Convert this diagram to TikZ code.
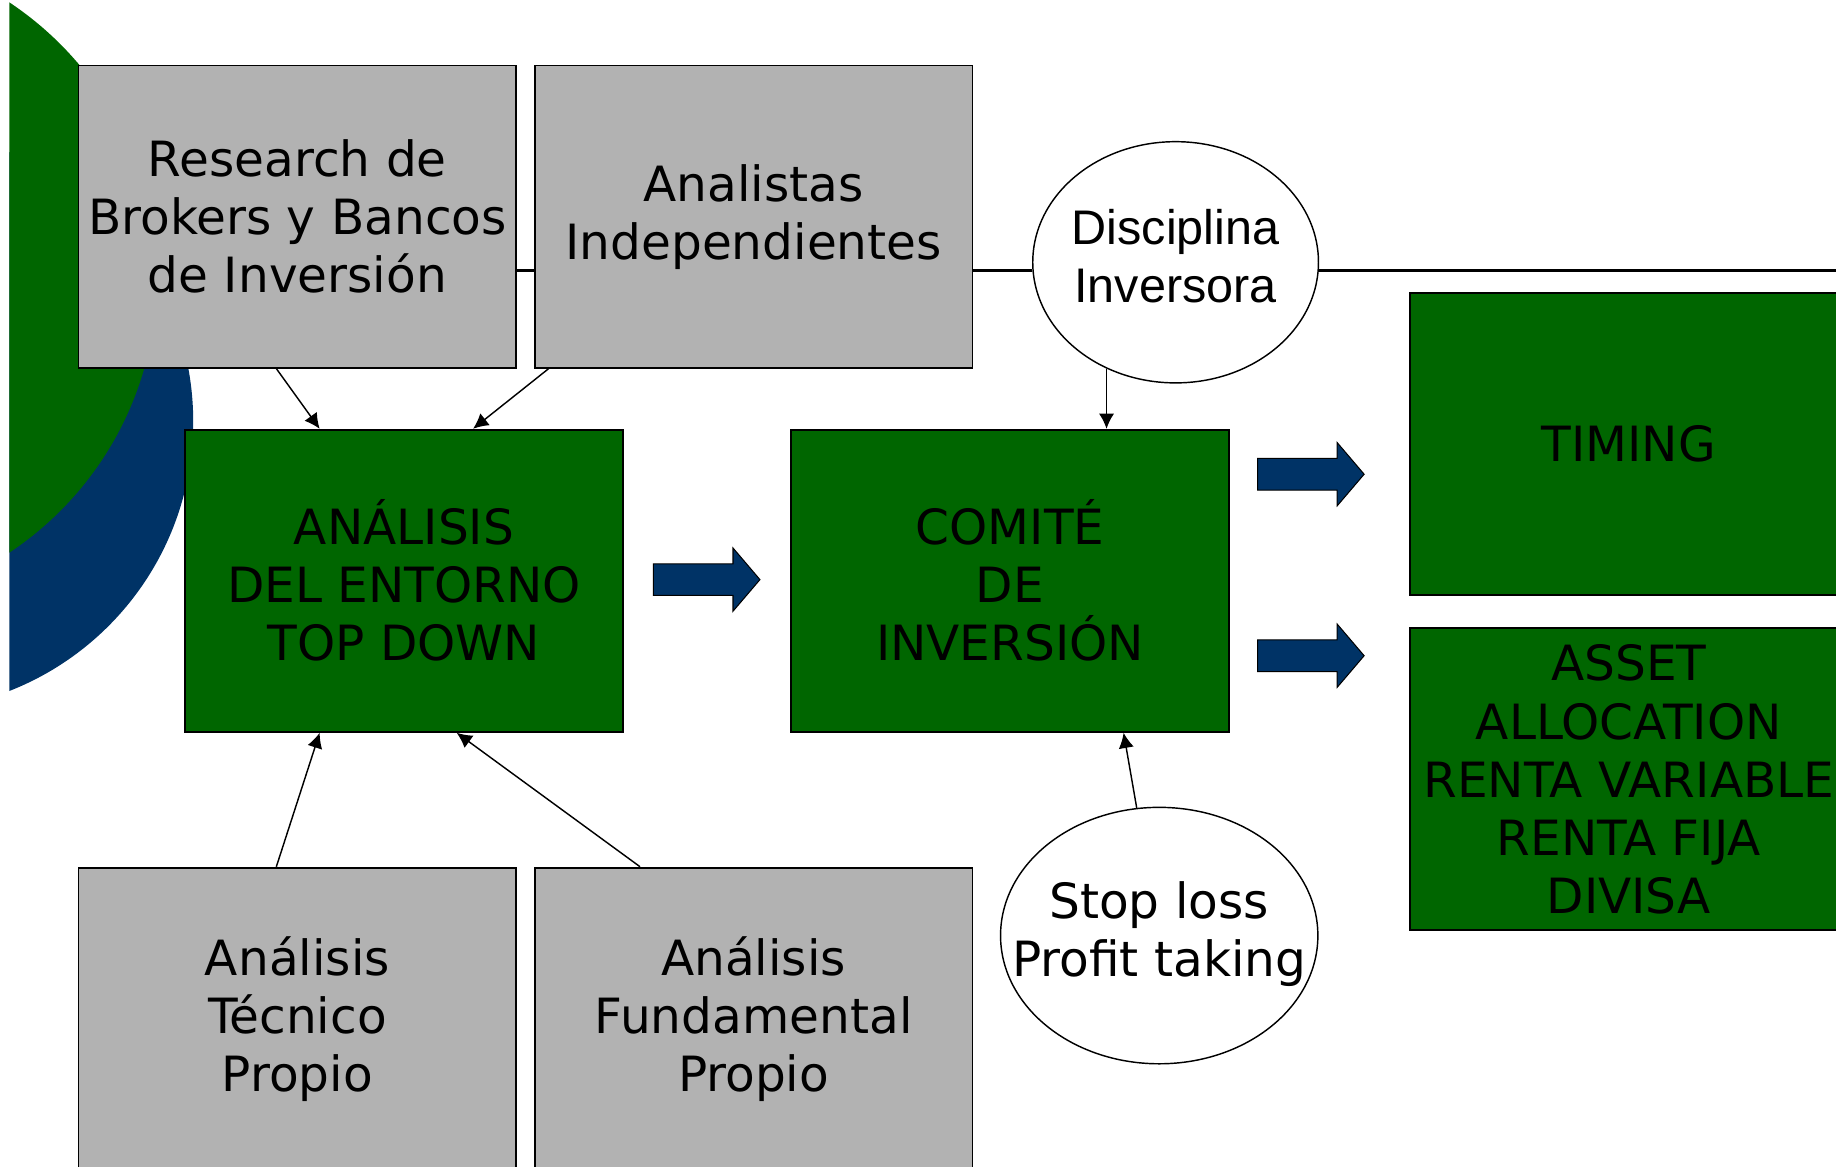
\documentclass[tikz,border=0pt]{standalone}
\usepackage{fontspec}
\setmainfont{DejaVu Sans}
\newfontfamily\arialfont{Liberation Sans}
\usetikzlibrary{shapes.geometric,arrows.meta,positioning,calc}
\definecolor{boxgreen}{RGB}{0,102,0}
\definecolor{navyblue}{RGB}{0,51,102}
\definecolor{boxgray}{RGB}{178,178,178}

\begin{document}
\begin{tikzpicture}[
    x=0.2mm, y=-0.2mm,
    every node/.style={font=\fontsize{23.6}{28.2}\selectfont},
    source/.style={rectangle, draw, line width=0.9pt, fill=boxgray, minimum width=74.8mm, minimum height=51.6mm, inner sep=0pt, align=center},
    stage/.style={source, fill=boxgreen},
    oval/.style={ellipse, draw, line width=0.7pt, fill=white, inner sep=0pt},
    link/.style={-{Latex[length=2.6mm,width=2.6mm]}, line width=0.7pt},
    pics/bigarrow/.style={code={
        \draw[fill=navyblue, line width=0.5pt] (0,-13.5) -- (68,-13.5) -- (68,-27) -- (91,0) -- (68,27) -- (68,13.5) -- (0,13.5) -- cycle;
    }}
]
\useasboundingbox (0,0) rectangle (1568,996);

% background discs on the left
\begin{scope}
    \clip (8,0) rectangle (1568,996);
    \fill[navyblue] (-82,360) circle (49.4mm);
    \fill[boxgreen] (-148,237) circle (56.4mm);
\end{scope}

\node[source] (research) at (254,185) {Research de\\Brokers y Bancos\\de Inversión};
\node[source, right=2.8mm of research] (analistas) {Analistas\\Independientes};
\node[stage] (entorno) at (345,496) {ANÁLISIS\\DEL ENTORNO\\TOP DOWN};
\node[stage, right=28.4mm of entorno] (comite) {COMITÉ\\DE\\INVERSIÓN};
\node[stage] (timing) at (1391,379) {TIMING};
\node[stage, below=5.4mm of timing] (asset) {ASSET\\ALLOCATION\\RENTA VARIABLE\\RENTA FIJA\\DIVISA};
\node[source] (tecnico) at (254,870) {Análisis\\Técnico\\Propio};
\node[source, right=2.8mm of tecnico] (fundamental) {Análisis\\Fundamental\\Propio};

\node[oval, minimum width=48.8mm, minimum height=41.2mm] (disc) at (1004,224)
    {\makebox[0pt]{\arialfont\begin{tabular}{@{}c@{}}Disciplina\\Inversora\end{tabular}}};
\node[oval, minimum width=54.2mm, minimum height=43.8mm] (stop) at (990,799)
    {\makebox[0pt]{\begin{tabular}{@{}c@{}}Stop loss\\Profit taking\end{tabular}}};

% horizontal rail
\coordinate (railend) at (1568,231);
\draw[line width=1pt] (research.east |- railend) -- (analistas.west |- railend)
    (analistas.east |- railend) -- (disc.west |- railend)
    (disc.east |- railend) -- (railend);

% block arrows
\pic at (558,495) {bigarrow};
\pic at (1074,405) {bigarrow};
\pic at (1074,560) {bigarrow};

% thin links
\draw[link] ($(research.south)+(-18,0)$) -- ($(entorno.north)+(-72,0)$);
\draw[link] ($(analistas.south)+(-175,0)$) -- ($(entorno.north)+(59,0)$);
\draw[link] ($(tecnico.north)+(-18,0)$) -- ($(entorno.south)+(-72,0)$);
\draw[link] ($(fundamental.north)+(-97,0)$) -- ($(entorno.south)+(45,0)$);
\draw[link] (disc.237) -- (disc.237 |- comite.north);
\draw[link] (stop.100) -- ($(comite.south)+(97,0)$);

\end{tikzpicture}
\end{document}
